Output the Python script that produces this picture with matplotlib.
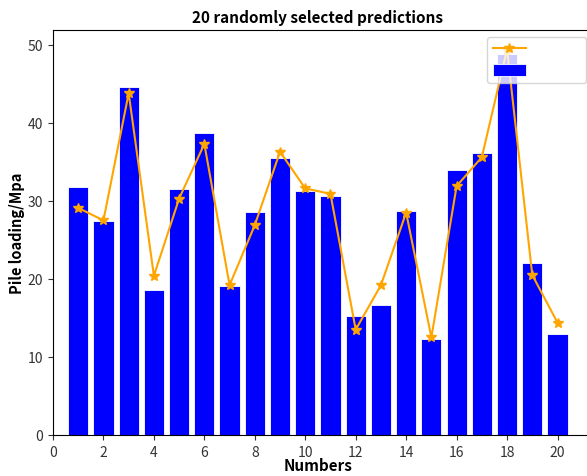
import matplotlib
matplotlib.use("Agg")
import matplotlib.pyplot as plt
import numpy as np

plt.rcParams['font.family'] = ['Noto Sans CJK SC', 'DejaVu Sans']

numbers = list(range(1, 21))
actual = [31.8, 27.4, 44.6, 18.6, 31.5, 38.7, 19.1, 28.6, 35.5, 31.3,
          30.6, 15.3, 16.7, 28.7, 12.3, 34.0, 36.1, 48.8, 22.1, 12.9]
predicted = [29.1, 27.5, 43.8, 20.4, 30.3, 37.3, 19.2, 26.9, 36.3, 31.6,
             30.9, 13.5, 19.2, 28.5, 12.5, 31.9, 35.6, 49.4, 20.5, 14.4]
xticks = [0, 2, 4, 6, 8, 10, 12, 14, 16, 18, 20]
yticks = [0, 10, 20, 30, 40, 50]

fig = plt.figure(figsize=(5.87, 4.77), dpi=100)
ax = fig.add_axes([53/587, 1-436/477, 560/587, (436-31)/477])

ax.bar(numbers, actual, width=0.8, color='#0000FF', edgecolor='white', linewidth=0.6, label='              ')
ax.plot(numbers, predicted, color='orange', marker='*', markersize=7, linewidth=1.5, label='              ')

ax.set_xlim(0, 22.2)
ax.set_ylim(0, 51.9)
ax.set_xticks(xticks)
ax.set_yticks(yticks)
ax.tick_params(labelsize=10, colors='#333333', labelcolor='#333333')
ax.set_title('20 randomly selected predictions', fontsize=11, fontweight='bold', pad=6,
             x=(318-53)/560)
ax.set_xlabel('Numbers', fontsize=11, fontweight='bold', labelpad=0)
ax.xaxis.set_label_coords((318-53)/560, -0.055)
ax.set_ylabel('Pile loading/Mpa', fontsize=10.5, fontweight='bold', labelpad=2)

handles, labels = ax.get_legend_handles_labels()
ax.legend(handles, labels, loc='upper left', bbox_to_anchor=(487/587, 1-38/477),
          bbox_transform=fig.transFigure, fontsize=10, handlelength=2.4, handleheight=1.0,
          framealpha=0.8, borderaxespad=0)

fig.savefig('out.png', dpi=100)
